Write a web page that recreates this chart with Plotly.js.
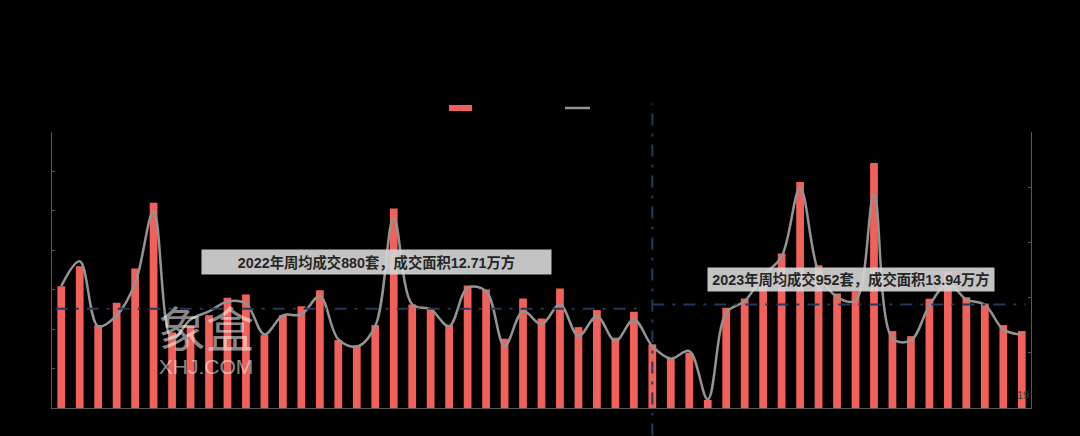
<!DOCTYPE html>
<html>
<head>
<meta charset="utf-8">
<script src="https://cdn.plot.ly/plotly-3.0.1.min.js"></script>
<style>
  html, body { margin: 0; padding: 0; background: #000; }
  #chart { width: 1080px; height: 436px; }
</style>
</head>
<body>
<div id="chart"></div>
<script>
// Weekly transactions: units (left axis) and area in 10k m² (right axis)
const weeks = Array.from({length: 53}, (_, i) => (i < 32 ? '2022-' : '2023-') + 'W' + (i < 32 ? i + 1 : i - 31));
const units = [
  1081, 1259, 736, 934, 1238, 1821, 671, 724, 824, 979,
  1008, 647, 824, 904, 1046, 603, 558, 736, 1770, 919,
  875, 736, 1088, 1052, 615, 972, 795, 1061, 718, 869,
  624, 854,
  565, 441, 491, 71, 890, 972, 1141, 1371, 2007, 1268,
  1017, 1034, 2175, 683, 638, 970, 1206, 984, 928, 736,
  683
];
const area = [
  15.45, 18.61, 10.35, 11.74, 15.79, 24.95, 8.70, 11.23, 12.25, 13.51,
  13.26, 9.33, 11.74, 11.87, 14.18, 8.70, 7.78, 10.38, 24.11, 13.13,
  12.50, 10.38, 15.25, 14.82, 7.85, 12.28, 10.60, 13.13, 9.12, 11.65,
  8.48, 11.23,
  7.85, 6.26, 7.22, 1.10, 12.08, 13.55, 16.80, 19.21, 27.91, 17.25,
  14.08, 13.64, 27.06, 8.83, 8.57, 13.00, 15.79, 13.76, 13.09, 9.97,
  9.27
];
const seriesNames = ['成交套数（套）', '成交面积（万方）'];
const avgLevels = [880, 919];
const avgLabels = ['2022年周均成交880套，成交面积12.71万方', '2023年周均成交952套，成交面积13.94万方'];

const FONT = 'Liberation Sans, Arial, "Noto Sans CJK SC", sans-serif';
const dashStyle = '12px,8px,3px,8px';
const navy = '#1f3a5c';

const traces = [
  {
    type: 'bar', x: weeks, y: units, name: seriesNames[0],
    marker: {color: '#F2605A'}, yaxis: 'y', hoverinfo: 'x+y'
  },
  {
    type: 'scatter', mode: 'lines', x: weeks, y: area, name: seriesNames[1],
    line: {color: '#939393', width: 2.5, shape: 'spline', smoothing: 1},
    yaxis: 'y2'
  }
];

const layout = {
  width: 1080, height: 436,
  paper_bgcolor: '#000', plot_bgcolor: '#000',
  margin: {l: 52, r: 49, t: 132, b: 28, pad: 0},
  showlegend: false,
  bargap: 0.58,
  font: {family: FONT, color: '#000'},
  xaxis: {
    type: 'category', range: [-0.5, 52.5], showticklabels: false,
    showline: true, linecolor: '#595959', linewidth: 1, ticks: '', showgrid: false, zeroline: false
  },
  yaxis: {
    range: [0, 2450], dtick: 350, showticklabels: false,
    showline: true, linecolor: '#595959', linewidth: 1,
    ticks: 'inside', ticklen: 3, tickcolor: '#595959', showgrid: false, zeroline: false
  },
  yaxis2: {
    range: [0, 35], dtick: 7, overlaying: 'y', side: 'right', showticklabels: false,
    showline: true, linecolor: '#595959', linewidth: 1,
    ticks: 'inside', ticklen: 3, tickcolor: '#595959', showgrid: false, zeroline: false
  },
  shapes: [
    {type: 'line', xref: 'x', yref: 'y', x0: -0.3, x1: 31.4, y0: avgLevels[0], y1: avgLevels[0],
     line: {color: navy, width: 2, dash: dashStyle}},
    {type: 'line', xref: 'x', yref: 'y', x0: 32, x1: 52.2, y0: avgLevels[1], y1: avgLevels[1],
     line: {color: navy, width: 2, dash: dashStyle}},
    {type: 'line', xref: 'x', yref: 'paper', x0: 32, x1: 32, y0: -0.1, y1: 1.112,
     line: {color: navy, width: 2, dash: dashStyle}},
    {type: 'rect', xref: 'paper', yref: 'paper', x0: 0.4055, x1: 0.429, y0: 1.076, y1: 1.0978,
     fillcolor: '#F2605A', line: {width: 0}},
    {type: 'line', xref: 'paper', yref: 'paper', x0: 0.524, x1: 0.5496, y0: 1.087, y1: 1.087,
     line: {color: '#939393', width: 2.5}}
  ],
  annotations: [
    {xref: 'paper', yref: 'paper', x: 0.3315, y: 0.529, xanchor: 'center', yanchor: 'middle',
     text: '<b>' + avgLabels[0] + '</b>', showarrow: false, width: 349, height: 24, borderpad: 0,
     bgcolor: 'rgba(212,212,212,0.92)', font: {size: 14.3, color: '#262626', family: FONT}},
    {xref: 'paper', yref: 'paper', x: 0.8163, y: 0.4638, xanchor: 'center', yanchor: 'middle',
     text: '<b>' + avgLabels[1] + '</b>', showarrow: false, width: 286, height: 23, borderpad: 0,
     bgcolor: 'rgba(212,212,212,0.92)', font: {size: 14.3, color: '#262626', family: FONT}},
    {xref: 'paper', yref: 'paper', x: 0.433, y: 1.087, xanchor: 'left', yanchor: 'middle',
     text: seriesNames[0], showarrow: false, font: {size: 12, color: '#000', family: FONT}},
    {xref: 'paper', yref: 'paper', x: 0.553, y: 1.087, xanchor: 'left', yanchor: 'middle',
     text: seriesNames[1], showarrow: false, font: {size: 12, color: '#000', family: FONT}},
    // watermark, one text block of two lines
    {xref: 'paper', yref: 'paper', x: 0.1568, y: 0.241, xanchor: 'center', yanchor: 'middle',
     text: '<span style="font-size:48px">象盒</span><br>XHJ.COM', showarrow: false, align: 'center',
     font: {size: 21, color: 'rgba(255,255,255,0.55)', family: FONT}},
    {xref: 'paper', yref: 'paper', x: 1.0, y: 0.047, xanchor: 'right', yanchor: 'middle',
     text: '19', showarrow: false, font: {size: 11, color: '#3c3c3c', family: FONT}}
  ]
};

Plotly.newPlot('chart', traces, layout, {displayModeBar: false, staticPlot: true});
</script>
</body>
</html>
